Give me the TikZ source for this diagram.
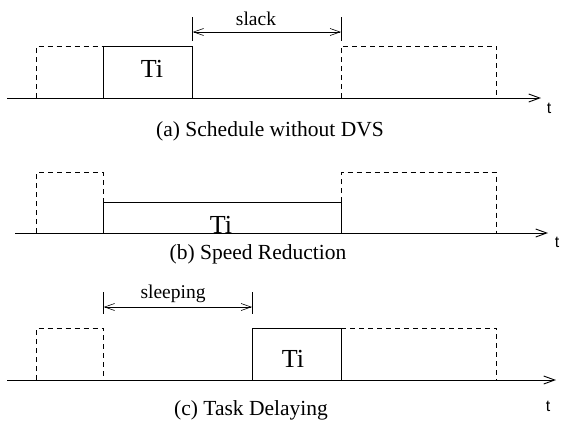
\documentclass[tikz,border=0pt]{standalone}
\usepackage{fontspec}
\setmainfont{Liberation Serif}
\newfontfamily\axisfont{Liberation Sans}
\usetikzlibrary{arrows.meta}

\tikzset{
  task/.style={draw,line width=0.9pt},
  idle/.style={draw,line width=0.8pt,dash pattern=on 5pt off 4pt},
  axis/.style={draw,line width=0.9pt,-{Straight Barb[length=11pt,width=8pt]}},
  gap/.style={draw,line width=0.6pt,{Straight Barb[length=10pt,width=7pt]}-{Straight Barb[length=10pt,width=7pt]}},
  tick/.style={draw,line width=0.6pt},
  tasklabel/.style={font=\fontsize{26}{30}\selectfont,inner sep=0pt},
  caption/.style={font=\fontsize{21.5}{25}\selectfont,inner sep=0pt},
  gaplabel/.style={font=\fontsize{19.5}{23}\selectfont,inner sep=0pt},
  tlabel/.style={font=\axisfont\fontsize{16}{18}\selectfont,inner sep=0pt}
}

\begin{document}
\begin{tikzpicture}[x=1pt,y=-1pt]
  \useasboundingbox (0,0) rectangle (563,421);

  % (a) schedule without DVS
  \draw[idle] (36.7,98) |- (103.7,46);
  \draw[task] (103.7,98) rectangle (192.7,46);
  \draw[idle] (341,98) |- (496.7,46) -- (496.7,98);
  \coordinate (a0) at (7,98); \coordinate (a1) at (541,98);
  \draw[axis] (a0) -- (a1);
  \coordinate (s0) at (192.7,32); \coordinate (s1) at (341,32);
  \draw[tick] (192.7,17) -- (192.7,41); \draw[tick] (341,17) -- (341,41);
  \draw[gap] (s0) -- (s1);
  \node[gaplabel] (slack) at (256,19) {slack};
  \node[tasklabel] (tia) at (152,69) {Ti};
  \node[tlabel] (ta) at (549,108) {t};
  \node[caption] (capa) at (270,131) {(a) Schedule without DVS};

  % (b) speed reduction
  \draw[idle] (36.7,233) |- (103.7,172.7) -- (103.7,202);
  \draw[task] (103.7,233) rectangle (341,202);
  \draw[idle] (341,202) |- (496.7,172.7) -- (496.7,233);
  \coordinate (b0) at (15,233); \coordinate (b1) at (548,233);
  \draw[axis] (b0) -- (b1);
  \node[tasklabel,anchor=base] (tib) at (221,233) {Ti};
  \node[tlabel] (tb) at (557,242) {t};
  \node[caption] (capb) at (258,254) {(b) Speed Reduction};

  % (c) task delaying
  \draw[idle] (36.7,380) |- (103.7,328) -- (103.7,380);
  \draw[task] (252,380) rectangle (341,328);
  \draw[idle] (341,328) -- (496.7,328) -- (496.7,380);
  \coordinate (c0) at (7,380); \coordinate (c1) at (556,380);
  \draw[axis] (c0) -- (c1);
  \coordinate (z0) at (103.7,307); \coordinate (z1) at (252,307);
  \draw[tick] (103.7,292) -- (103.7,314); \draw[tick] (252,292) -- (252,314);
  \draw[gap] (z0) -- (z1);
  \node[gaplabel] (sleeping) at (173,294) {sleeping};
  \node[tasklabel] (tic) at (293,359) {Ti};
  \node[tlabel] (tc) at (548,406) {t};
  \node[caption] (capc) at (251,410) {(c) Task Delaying};
\end{tikzpicture}
\end{document}
